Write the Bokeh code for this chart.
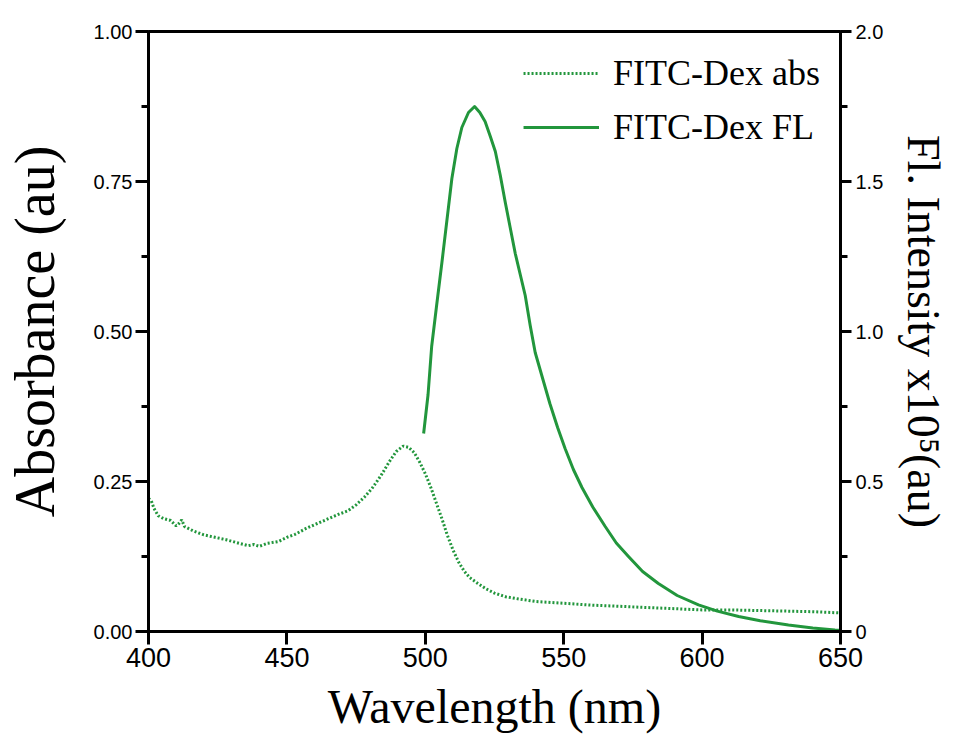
from bokeh.plotting import figure
from bokeh.models import Range1d, LinearAxis, FixedTicker, Legend, LegendItem, PrintfTickFormatter
from bokeh.embed import file_html
from bokeh.resources import INLINE

# ---- data ----
abs_wl = [400.0, 401.0, 402.0, 403.5, 405.5, 408.0, 410.0, 411.0, 412.0, 413.0,
          416.0, 420.0, 424.0, 428.0, 432.0, 436.0, 438.0, 440.0, 443.0, 447.0,
          450.0, 453.0, 457.0, 461.0, 465.0, 469.0, 472.0, 475.0, 478.0, 481.0,
          484.0, 487.0, 489.5, 492.0, 494.0, 496.0, 498.0, 500.0, 502.0, 504.0,
          506.0, 508.0, 510.0, 512.0, 514.0, 516.0, 519.0, 522.0, 525.0, 529.0,
          534.0, 540.0, 550.0, 560.0, 570.0, 580.0, 590.0, 600.0, 610.0, 620.0,
          630.0, 640.0, 650.0]
abs_val = [0.222, 0.218, 0.205, 0.193, 0.188, 0.185, 0.176, 0.180, 0.186, 0.175,
           0.168, 0.161, 0.157, 0.153, 0.148, 0.143, 0.145, 0.142, 0.147, 0.150,
           0.157, 0.162, 0.172, 0.180, 0.188, 0.196, 0.201, 0.211, 0.224, 0.240,
           0.260, 0.283, 0.300, 0.309, 0.307, 0.298, 0.282, 0.263, 0.240, 0.214,
           0.188, 0.160, 0.136, 0.116, 0.101, 0.090, 0.080, 0.071, 0.064, 0.058,
           0.054, 0.050, 0.047, 0.044, 0.042, 0.040, 0.038, 0.036, 0.036, 0.035,
           0.034, 0.033, 0.031]

fl_wl = [499.4, 501.0, 502.3, 504.0, 506.0, 507.8, 509.6, 511.4, 513.2, 515.6,
         517.8, 519.7, 521.6, 523.5, 525.3, 527.1, 528.9, 530.7, 532.5, 534.3,
         536.1, 537.9, 539.7, 542.5, 545.0, 547.8, 550.5, 553.5, 556.6, 560.5,
         565.0, 569.0, 573.4, 578.5, 584.2, 591.0, 598.7, 605.5, 613.2, 621.0,
         631.2, 640.0, 648.0, 650.0]
fl_val = [0.66, 0.79, 0.95, 1.08, 1.23, 1.37, 1.51, 1.61, 1.68, 1.73,
          1.75, 1.73, 1.70, 1.65, 1.60, 1.52, 1.43, 1.345, 1.26, 1.19,
          1.12, 1.02, 0.93, 0.84, 0.76, 0.68, 0.61, 0.54, 0.48, 0.415,
          0.35, 0.295, 0.25, 0.20, 0.16, 0.12, 0.089, 0.068, 0.050, 0.036,
          0.022, 0.012, 0.005, 0.004]

x_ticks = [400, 450, 500, 550, 600, 650]
abs_ticks = [0.0, 0.25, 0.5, 0.75, 1.0]
abs_minor = [0.125, 0.375, 0.625, 0.875]
fl_ticks = [0.0, 0.5, 1.0, 1.5, 2.0]
fl_minor = [0.25, 0.75, 1.25, 1.75]

GREEN = "#22963c"

p = figure(frame_width=692, frame_height=600,
           min_border_left=144, min_border_right=100,
           min_border_top=31, min_border_bottom=100,
           x_range=Range1d(400, 650), y_range=Range1d(0, 1),
           output_backend="svg", toolbar_location=None)
p.extra_y_ranges = {"fl": Range1d(0, 2)}
p.xgrid.visible = False
p.ygrid.visible = False
p.outline_line_color = "black"
p.outline_line_width = 3
p.outline_line_alpha = 1.0

r_abs = p.line(abs_wl, abs_val, line_color=GREEN, line_width=3, line_dash="2 2")
r_fl = p.line(fl_wl, fl_val, line_color=GREEN, line_width=3, y_range_name="fl",
              line_join="round")

right = LinearAxis(y_range_name="fl")
p.add_layout(right, "right")


def style(ax, size):
    ax.axis_line_width = 3
    ax.major_tick_line_width = 3
    ax.minor_tick_line_width = 3
    ax.major_tick_in = 0
    ax.major_tick_out = 13
    ax.minor_tick_in = 0
    ax.minor_tick_out = 7
    ax.major_label_text_font = "Liberation Sans"
    ax.major_label_text_font_size = size
    ax.major_label_text_color = "black"
    ax.axis_label_text_font = "Liberation Serif"
    ax.axis_label_text_font_style = "normal"
    ax.axis_label_text_color = "black"


xa = p.xaxis[0]
style(xa, "27px")
xa.ticker = FixedTicker(ticks=x_ticks, minor_ticks=[])
xa.axis_label = "Wavelength (nm)"
xa.axis_label_text_font_size = "48px"
xa.major_label_standoff = 3
xa.axis_label_standoff = 10

ya = p.yaxis[0]
style(ya, "20px")
ya.ticker = FixedTicker(ticks=abs_ticks, minor_ticks=abs_minor)
ya.formatter = PrintfTickFormatter(format="%.2f")
ya.axis_label = "Absorbance (au)"
ya.axis_label_text_font_size = "56px"
ya.major_label_standoff = 3
ya.axis_label_standoff = 25

style(right, "20px")
right.major_tick_out = 11
right.ticker = FixedTicker(ticks=fl_ticks, minor_ticks=fl_minor)
right.formatter = PrintfTickFormatter(format="%.1f")
right.major_label_overrides = {0: "0"}
right.axis_label = "Fl. Intensity x10\u2075(au)"
right.axis_label_text_font_size = "46px"
right.major_label_standoff = 4
right.axis_label_standoff = 12

legend = Legend(items=[LegendItem(label="FITC-Dex abs", renderers=[r_abs]),
                       LegendItem(label="FITC-Dex FL", renderers=[r_fl])],
                location="top_right")
legend.border_line_color = None
legend.background_fill_alpha = 0
legend.label_text_font = "Liberation Serif"
legend.label_text_font_size = "36px"
legend.label_text_color = "black"
legend.glyph_width = 76
legend.glyph_height = 44
legend.label_height = 44
legend.label_standoff = 14
legend.spacing = 10
legend.padding = 0
legend.margin = 20
p.add_layout(legend)

open("out.html", "w").write(file_html(p, INLINE))
